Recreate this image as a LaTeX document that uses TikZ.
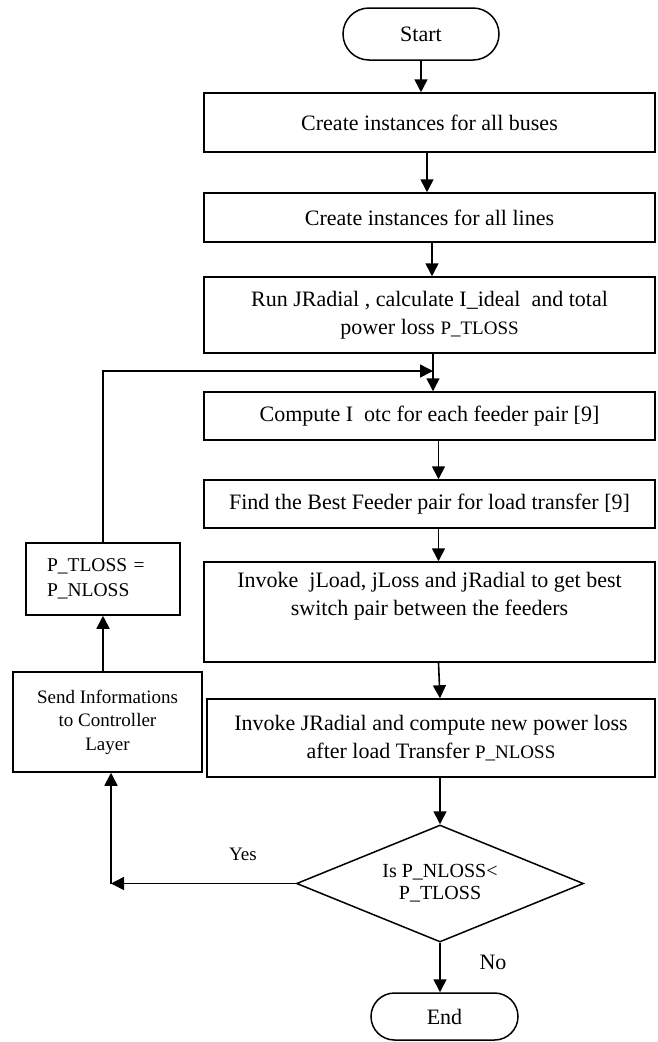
\documentclass[tikz,border=0pt]{standalone}
\usepackage{fontspec}
\setmainfont{Liberation Serif}
\usetikzlibrary{arrows.meta,shapes.misc,shapes.geometric}

\begin{document}
\begin{tikzpicture}[x=1pt,y=-1pt,
  every node/.style={font=\fontsize{22}{28}\selectfont},
  procbox/.style={draw, line width=1.5pt, rectangle, align=center, inner sep=0pt},
  term/.style={draw, line width=1.5pt, rounded rectangle, inner sep=0pt},
  decision/.style={draw, line width=1.5pt, diamond, aspect=2.45, inner sep=0pt, align=center,
    font=\fontsize{20}{22}\selectfont},
  arr/.style={line width=1.6pt, -{Triangle[length=13pt,width=13pt]}},
  smalltext/.style={font=\fontsize{19}{23.5}\selectfont},
  lbl/.style={inner sep=0pt}
]
\useasboundingbox (0,0) rectangle (657,1042);

% main column
\node[term, minimum width=156pt, minimum height=52pt] (start) at (421,34) {Start};
\node[procbox, minimum width=451pt, minimum height=59pt] (b1) at (429.5,122.5)
  {Create instances for all buses};
\node[procbox, minimum width=451pt, minimum height=49pt] (b2) at (429.5,217.5)
  {Create instances for all lines};
\node[procbox, minimum width=451pt, minimum height=76pt] (b3) at (429.5,315)
  {Run JRadial , calculate I\_ideal\ \ and total\\power loss {\fontsize{19}{28}\selectfont P\_TLOSS}};
\node[procbox, minimum width=451pt, minimum height=48pt] (b4) at (429.5,416)
  {Compute I\ \ otc for each feeder pair [9]};
\node[procbox, minimum width=451pt, minimum height=48pt] (b5) at (429.5,504)
  {Find the Best Feeder pair for load transfer [9]};
\node[procbox, minimum width=451pt, minimum height=100pt] (b6) at (429.5,612)
  {Invoke\ \ jLoad, jLoss and jRadial to get best\\switch pair between the feeders\\\strut};
\node[procbox, minimum width=448pt, minimum height=78pt] (b7) at (431,738)
  {Invoke JRadial and compute new power loss\\after load Transfer {\fontsize{19}{28}\selectfont P\_NLOSS}};
\node[decision, minimum width=287pt, minimum height=117pt] (dec) at (440,883.5)
  {Is P\_NLOSS<\\P\_TLOSS};
\node[term, minimum width=147pt, minimum height=47pt] (end) at (444.5,1016.5) {End};

% feedback column
\node[procbox, smalltext, minimum width=189pt, minimum height=100pt] (send) at (107.5,722)
  {Send Informations\\to Controller\\Layer};
\node[procbox, font=\fontsize{19.5}{25}\selectfont, align=left, text width=112pt,
  inner xsep=21pt, minimum height=72pt] (pbox) at (103,579)
  {P\_TLOSS =\\P\_NLOSS};

% labels
\node[lbl, smalltext] (yes) at (243,854) {Yes};
\node[lbl] (no) at (493,962) {No};

% helper points of the loop
\coordinate (corner) at (111,883.5);
\coordinate (join) at (433,371);

% main flow
\draw[arr] (start.south) -- (start.south |- b1.north);
\draw[arr] ([xshift=-2.5pt]b1.south) -- ([xshift=-2.5pt]b2.north);
\draw[arr] ([xshift=2.5pt]b2.south) -- ([xshift=2.5pt]b3.north);
\draw[arr] ([xshift=3.5pt]b3.south) -- ([xshift=3.5pt]b4.north);
\draw[arr] ([xshift=9pt]b4.south) -- ([xshift=9pt]b5.north);
\draw[arr] ([xshift=9pt]b5.south) -- ([xshift=9pt]b6.north);
\draw[arr] ([xshift=9pt]b6.south) -- ([xshift=9pt]b7.north);
\draw[arr] (dec.north |- b7.south) -- (dec.north);
\draw[arr] (dec.south) -- (dec.south |- end.north);

% feedback loop
\draw[arr] (dec.west) -- (corner);
\draw[arr] (corner) -- (corner |- send.south);
\draw[arr] (send.north -| pbox) -- (pbox.south);
\draw[arr] (pbox.north) |- (join);
\end{tikzpicture}
\end{document}
